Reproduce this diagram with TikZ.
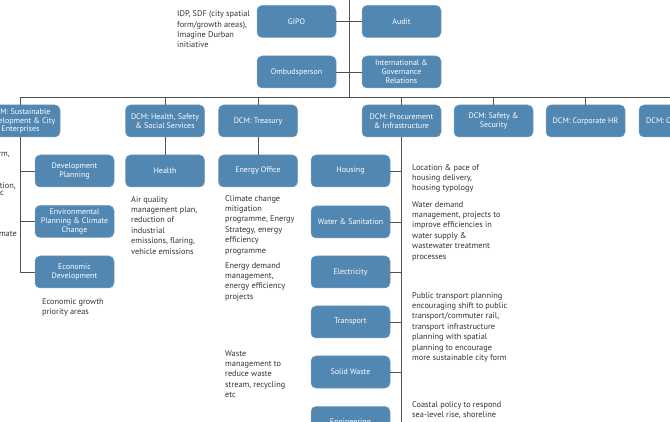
\documentclass[tikz,border=0pt]{standalone}
\usepackage{fontspec}
\setmainfont{PT Sans}
\definecolor{unitblue}{RGB}{82,135,178}
\definecolor{linkgray}{RGB}{80,80,80}
\definecolor{notegray}{RGB}{50,50,50}
\tikzset{
  unit/.style={fill=unitblue, draw=unitblue!80!white, line width=0.5pt, rounded corners=5pt,
    text=white, minimum width=79pt, minimum height=32pt, inner sep=1pt, align=center,
    font=\fontsize{8}{8.9}\selectfont},
  note/.style={anchor=north west, inner sep=0pt, align=left, text=notegray,
    font=\fontsize{8.3}{10.4}\selectfont},
  cutnote/.style={note, anchor=north east},
  link/.style={draw=linkgray, line width=0.8pt}
}
\begin{document}
\begin{tikzpicture}[x=1pt, y=-1pt, line join=round]
  \useasboundingbox (0,0) rectangle (670,422);
  \clip (0,0) rectangle (670,422);
  % --- top units ---
  \node[unit] (gipo) at (296.5,21.5) {GIPO};
  \node[unit] (audit) at (401.5,21.5) {Audit};
  \node[unit] (ombud) at (296.5,72) {Ombudsperson};
  \node[unit] (igr) at (401.5,72) {International \&\\Governance\\Relations};
  \node[note] (idp) at (177,10.5) {IDP, SDF (city spatial\\form/growth areas),\\Imagine Durban\\initiative};
  \coordinate (top) at (349.5,0);
  \coordinate (busL) at (20,97);
  \coordinate (busR) at (672,97);
  \draw[link] (top) -- (top |- busL);
  \draw[link] (busL) -- (busR);
  \draw[link] (gipo) -- (audit);
  \draw[link] (ombud) -- (igr);
  % --- DCM row ---
  \node[unit] (sdce) at (20.5,121) {DCM: Sustainable\\Development \& City\\Enterprises};
  \node[unit] (hss) at (165,121) {DCM: Health, Safety\\\& Social Services};
  \node[unit] (treas) at (258,121) {DCM: Treasury};
  \node[unit] (procure) at (401.5,121) {DCM: Procurement\\\& Infrastructure};
  \node[unit] (safety) at (493.5,121) {DCM: Safety \&\\Security};
  \node[unit] (corphr) at (585.5,121) {DCM: Corporate HR};
  \node[unit] (dcmc) at (678.5,121) {};
  \node[anchor=west, inner sep=0pt, text=white, font=\fontsize{8}{8.9}\selectfont] (dcmctext) at (646,121) {DCM: C};
  \foreach \n in {sdce,hss,treas,procure,safety,corphr,dcmc}
    \draw[link] (\n.north) -- (\n.north |- busL);
  % --- sustainable development ---
  \node[unit] (devplan) at (74.5,171) {Development\\Planning};
  \node[unit] (envplan) at (74.5,221.5) {Environmental\\Planning \& Climate\\Change};
  \node[unit] (econdev) at (74.5,272) {Economic\\Development};
  \draw[link] (sdce.south) |- (econdev.west);
  \draw[link] (devplan.west) -- (devplan.west -| sdce.south);
  \draw[link] (envplan.west) -- (envplan.west -| sdce.south);
  \node[note] (econnote) at (42,298) {Economic growth\\priority areas};
  \node[cutnote] (cut1) at (10,152) {rm,};
  \node[cutnote] (cut2) at (16,182) {tion,};
  \node[cutnote] (cut3) at (4,191) {c};
  \node[cutnote] (cut4) at (17,231) {mate};
  % --- health and treasury ---
  \node[unit] (health) at (165,171) {Health};
  \node[unit] (energy) at (258,171) {Energy Office};
  \draw[link] (hss) -- (health);
  \draw[link] (treas) -- (energy);
  \node[note] (airnote) at (131,196) {Air quality\\management plan,\\reduction of\\industrial\\emissions, flaring,\\vehicle emissions};
  \node[note] (climnote) at (225,195) {Climate change\\mitigation\\programme, Energy\\Strategy, energy\\efficiency\\programme};
  \node[note] (demnote) at (225,262) {Energy demand\\management,\\energy efficiency\\projects};
  \node[note] (wastenote) at (225,350) {Waste\\management to\\reduce waste\\stream, recycling\\etc};
  % --- procurement and infrastructure ---
  \node[unit] (housing) at (350.5,171) {Housing};
  \node[unit] (water) at (350.5,222) {Water \& Sanitation};
  \node[unit] (elec) at (350.5,272) {Electricity};
  \node[unit] (transport) at (350.5,322) {Transport};
  \node[unit] (solid) at (350.5,372) {Solid Waste};
  \node[unit] (eng) at (350.5,422.5) {Engineering};
  \coordinate (procend) at (401.5,440);
  \draw[link] (procure.south) -- (procend);
  \foreach \n in {housing,water,elec,transport,solid,eng}
    \draw[link] (\n.east) -- (\n.east -| procend);
  \node[note] (housenote) at (412,164) {Location \& pace of\\housing delivery,\\housing typology};
  \node[note] (waternote) at (412,201) {Water demand\\management, projects to\\improve efficiencies in\\water supply \&\\wastewater treatment\\processes};
  \node[note] (transnote) at (412,292) {Public transport planning\\encouraging shift to public\\transport/commuter rail,\\transport infrastructure\\planning with spatial\\planning to encourage\\more sustainable city form};
  \node[note] (coastnote) at (412,401) {Coastal policy to respond\\sea-level rise, shoreline};
\end{tikzpicture}
\end{document}
